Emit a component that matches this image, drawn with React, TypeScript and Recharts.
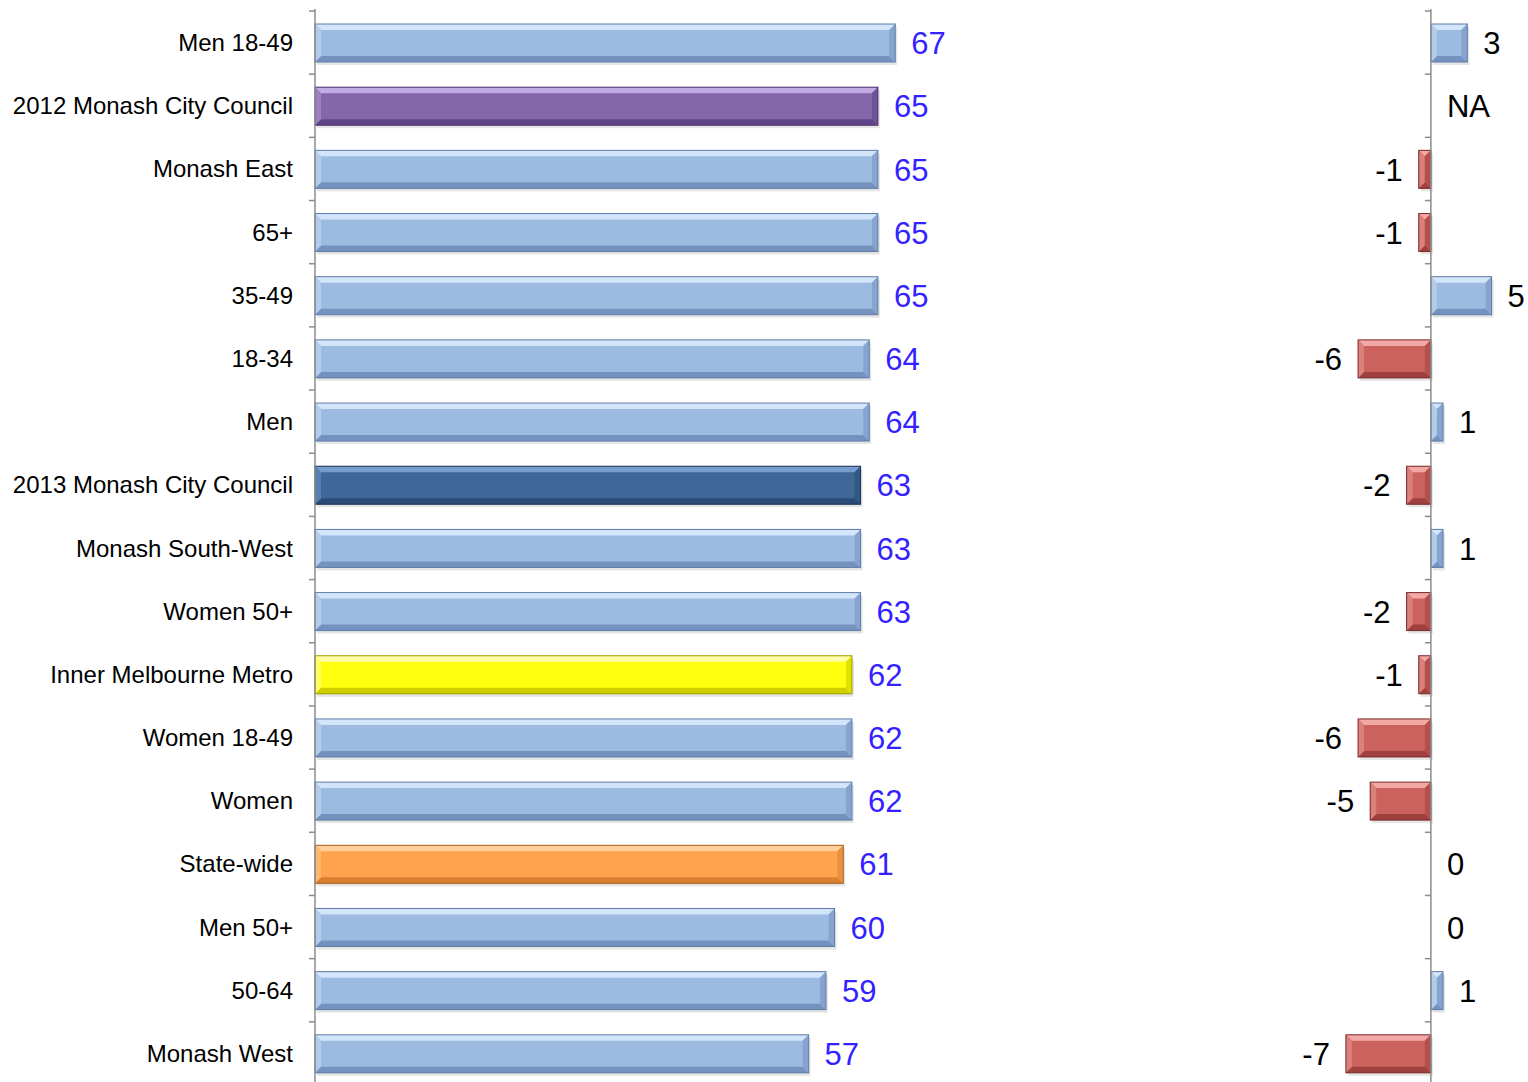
import React from 'react';
import { BarChart, Bar, XAxis, YAxis, LabelList, ReferenceLine } from 'recharts';

const categories = [
  'Men 18-49',
  '2012 Monash City Council',
  'Monash East',
  '65+',
  '35-49',
  '18-34',
  'Men',
  '2013 Monash City Council',
  'Monash South-West',
  'Women 50+',
  'Inner Melbourne Metro',
  'Women 18-49',
  'Women',
  'State-wide',
  'Men 50+',
  '50-64',
  'Monash West',
];

const scores = [67, 65, 65, 65, 65, 64, 64, 63, 63, 63, 62, 62, 62, 61, 60, 59, 57];

const changes: (number | null)[] = [3, null, -1, -1, 5, -6, 1, -2, 1, -2, -1, -6, -5, 0, 0, 1, -7];

type Palette = { base: string; light: string; dark: string; edge: string; sideL: string; sideR: string };

const palettes: Record<string, Palette> = {
  lightBlue: { base: '#9DBAE1', light: '#D3E5FA', dark: '#7592BE', edge: '#5F7CA6', sideL: '#B3CCEC', sideR: '#86A4CF' },
  purple: { base: '#8567A9', light: '#C2AAE2', dark: '#5F4588', edge: '#4A336E', sideL: '#9C80C0', sideR: '#6E5296' },
  darkBlue: { base: '#3F6899', light: '#759ECE', dark: '#2A4B74', edge: '#1C3457', sideL: '#5580B2', sideR: '#33587F' },
  yellow: { base: '#FFFF10', light: '#FFFFA8', dark: '#CFCF00', edge: '#9C9C00', sideL: '#FFFF60', sideR: '#E2E200' },
  orange: { base: '#FFA34F', light: '#FFD09A', dark: '#D8802F', edge: '#A9601C', sideL: '#FFB771', sideR: '#EA913F' },
  red: { base: '#CB625E', light: '#F2A8A5', dark: '#9E403D', edge: '#7A2C2A', sideL: '#DC807C', sideR: '#B34F4C' },
};

const highlight: Record<string, string> = {
  '2012 Monash City Council': 'purple',
  '2013 Monash City Council': 'darkBlue',
  'Inner Melbourne Metro': 'yellow',
  'State-wide': 'orange',
};

const leftData = categories.map((name, i) => ({ name, score: scores[i] }));
const rightData = categories.map((name, i) => ({
  name,
  diff: changes[i] === null ? 0 : (changes[i] as number),
  label: changes[i] === null ? 'NA' : String(changes[i]),
}));

const FONT = '"Liberation Sans", Arial, Helvetica, sans-serif';

function drawBevel(x: number, y: number, width: number, height: number, p: Palette) {
  const left = Math.min(x, x + width);
  const w = Math.abs(width);
  const h = height;
  if (!(w >= 0.5) || !(h > 0)) return <g />;
  const b = Math.min(6, h / 4, w / 2);
  const r = left + w;
  const bot = y + h;
  return (
    <g>
      <rect x={left + 2} y={y + 3} width={w} height={h} fill="#000" opacity={0.1} />
      <rect x={left} y={y} width={w} height={h} fill={p.base} />
      <polygon points={`${left},${y} ${r},${y} ${r - b},${y + b} ${left + b},${y + b}`} fill={p.light} />
      <polygon points={`${left},${bot} ${r},${bot} ${r - b},${bot - b} ${left + b},${bot - b}`} fill={p.dark} />
      <polygon points={`${left},${y} ${left + b},${y + b} ${left + b},${bot - b} ${left},${bot}`} fill={p.sideL} />
      <polygon points={`${r},${y} ${r - b},${y + b} ${r - b},${bot - b} ${r},${bot}`} fill={p.sideR} />
      <rect x={left} y={y} width={w} height={h} fill="none" stroke={p.edge} strokeWidth={1} />
    </g>
  );
}

const LeftBarShape = (props: any) => {
  const { x, y, width, height, payload } = props;
  const key = highlight[payload?.name] || 'lightBlue';
  return drawBevel(x, y, width, height, palettes[key]);
};

const RightBarShape = (props: any) => {
  const { x, y, width, height, payload } = props;
  const key = payload && payload.diff < 0 ? 'red' : 'lightBlue';
  return drawBevel(x, y, width, height, palettes[key]);
};

const AxisWithTicks = (props: any) => {
  const { x1, y1, x2, y2 } = props;
  const n = categories.length;
  const top = Math.min(y1, y2);
  const bottom = Math.max(y1, y2);
  const step = (bottom - top) / n;
  const ticks = [];
  for (let i = 0; i <= n; i++) {
    const ty = top + i * step;
    ticks.push(<line key={i} x1={x1 - 6} x2={x1} y1={ty} y2={ty} stroke="#8C8C8C" strokeWidth={1.5} />);
  }
  return (
    <g>
      <line x1={x1} x2={x2} y1={top - 2} y2={bottom + 4} stroke="#8C8C8C" strokeWidth={1.5} />
      {ticks}
    </g>
  );
};

const LeftLabel = (props: any) => {
  const { x, y, width, height, value } = props;
  return (
    <text x={x + width + 16} y={y + height / 2} dy="0.36em" fill="#3322FF" fontSize={31} fontFamily={FONT} textAnchor="start">
      {value}
    </text>
  );
};

const RightLabel = (props: any) => {
  const { x, y, width, height, value } = props;
  const left = Math.min(x, x + width);
  const right = Math.max(x, x + width);
  const negative = typeof value === 'string' && value.startsWith('-');
  return (
    <text
      x={negative ? left - 16 : right + 16}
      y={y + height / 2}
      dy="0.36em"
      fill="#000"
      fontSize={31}
      fontFamily={FONT}
      textAnchor={negative ? 'end' : 'start'}
    >
      {value}
    </text>
  );
};

export default function App() {
  return (
    <div style={{ position: 'absolute', left: 0, top: 0, width: 1528, height: 1086, fontFamily: FONT, background: '#fff' }}>
      <div style={{ position: 'absolute', left: 0, top: 0 }}>
        <BarChart
          width={1200}
          height={1085}
          data={leftData}
          layout="vertical"
          margin={{ top: 11, right: 19, bottom: 0, left: 0 }}
        >
          <XAxis type="number" domain={[0, 100]} hide />
          <YAxis
            type="category"
            dataKey="name"
            width={315}
            axisLine={false}
            tickLine={false}
            tickSize={0}
            tickMargin={22}
            interval={0}
            tick={{ fontSize: 24, fill: '#000', fontFamily: FONT }}
          />
          <Bar dataKey="score" barSize={38} isAnimationActive={false} shape={LeftBarShape}>
            <LabelList dataKey="score" content={LeftLabel} />
          </Bar>
          <ReferenceLine x={0} shape={AxisWithTicks} />
        </BarChart>
      </div>
      <div style={{ position: 'absolute', left: 1200, top: 0 }}>
        <BarChart
          width={328}
          height={1085}
          data={rightData}
          layout="vertical"
          margin={{ top: 11, right: 0, bottom: 0, left: 109.5 }}
        >
          <XAxis type="number" domain={[-10, 8]} hide allowDataOverflow />
          <YAxis type="category" dataKey="name" hide />
          <Bar dataKey="diff" barSize={38} isAnimationActive={false} shape={RightBarShape}>
            <LabelList dataKey="label" content={RightLabel} />
          </Bar>
          <ReferenceLine x={0} shape={AxisWithTicks} />
        </BarChart>
      </div>
    </div>
  );
}
